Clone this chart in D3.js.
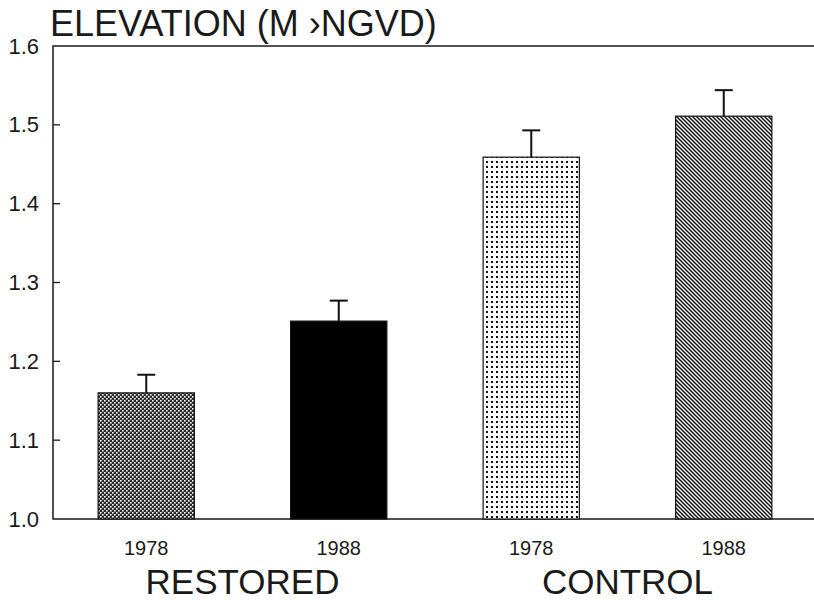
<!DOCTYPE html>
<html><head><meta charset="utf-8">
<script src="https://cdn.jsdelivr.net/npm/d3@7"></script>
<style>
html,body{margin:0;padding:0;background:#fff;}
svg{display:block;}
text{font-family:"Liberation Sans",Arial,sans-serif;}
</style></head>
<body>
<svg id="chart" width="814" height="600"></svg>
<script>
const years = ["1978", "1988", "1978", "1988"];
const groupOf = ["RESTORED", "RESTORED", "CONTROL", "CONTROL"];
const groups = ["RESTORED", "CONTROL"];
const values = [1.160, 1.251, 1.459, 1.511];
const errors = [0.023, 0.026, 0.034, 0.033];
const fills = ["check", "solid", "dots", "diag"];
const yTicks = [1.0, 1.1, 1.2, 1.3, 1.4, 1.5, 1.6];
const titleText = "ELEVATION (M \u203ANGVD)";

(function(){
const svg = d3.select("#chart");
const ink = "#1a1a1a";

const defs = svg.append("defs");
const pCheck = defs.append("pattern").attr("id","check").attr("patternUnits","userSpaceOnUse").attr("width",4).attr("height",4);
pCheck.append("rect").attr("width",4).attr("height",4).attr("fill","#2a2a2a");
pCheck.append("rect").attr("x",0).attr("y",0).attr("width",1.6).attr("height",1.6).attr("fill","#fff");
pCheck.append("rect").attr("x",2).attr("y",2).attr("width",1.6).attr("height",1.6).attr("fill","#fff");

const pDots = defs.append("pattern").attr("id","dots").attr("patternUnits","userSpaceOnUse").attr("width",5).attr("height",5);
pDots.append("rect").attr("width",5).attr("height",5).attr("fill","#fff");
pDots.append("rect").attr("x",1).attr("y",1).attr("width",2).attr("height",2).attr("fill","#111");

const pDiag = defs.append("pattern").attr("id","diag").attr("patternUnits","userSpaceOnUse").attr("width",4).attr("height",4);
pDiag.append("rect").attr("width",4).attr("height",4).attr("fill","#fff");
pDiag.append("path").attr("d","M-1,-1 L5,5 M-1,3 L1,5 M3,-1 L5,1").attr("stroke","#111").attr("stroke-width",1.5);

const mLeft = 53, mRight = 814, mTop = 46, mBottom = 519;

const x = d3.scaleBand().domain(d3.range(years.length)).range([50, 820]).paddingInner(0.5).paddingOuter(0.25);
const y = d3.scaleLinear().domain([1.0, 1.6]).range([mBottom, mTop]);

const yAxis = d3.axisLeft(y).tickValues(yTicks).tickFormat(d3.format(".1f")).tickSize(0).tickPadding(14);
const gy = svg.append("g").attr("transform",`translate(${mLeft},0)`).call(yAxis);
gy.select(".domain").remove();
gy.selectAll("text").attr("font-family","Liberation Sans, Arial, sans-serif").attr("font-size",22).attr("fill",ink);

svg.append("g").selectAll("line").data(yTicks.slice(1,-1)).join("line")
  .attr("x1",mLeft).attr("x2",mLeft+7).attr("y1",d=>y(d)).attr("y2",d=>y(d))
  .attr("stroke",ink).attr("stroke-width",1.3);

svg.append("path").attr("d",`M${mRight},${mTop} H${mLeft} V${mBottom} H${mRight}`)
  .attr("fill","none").attr("stroke",ink).attr("stroke-width",1.5);

svg.append("g").selectAll("rect").data(values).join("rect")
  .attr("x",(d,i)=>x(i)).attr("width",x.bandwidth())
  .attr("y",d=>y(d)).attr("height",d=>y(1.0)-y(d))
  .attr("fill",(d,i)=>fills[i]==="solid" ? "#000" : `url(#${fills[i]})`)
  .attr("stroke","#111").attr("stroke-width",1.2);

const eg = svg.append("g").attr("stroke","#111").attr("stroke-width",2);
values.forEach((v,i)=>{
  const cx = x(i)+x.bandwidth()/2;
  eg.append("line").attr("x1",cx).attr("x2",cx).attr("y1",y(v)).attr("y2",y(v+errors[i]));
  eg.append("line").attr("x1",cx-9).attr("x2",cx+9).attr("y1",y(v+errors[i])).attr("y2",y(v+errors[i]));
});

svg.append("g").selectAll("text").data(years).join("text")
  .attr("x",(d,i)=>x(i)+x.bandwidth()/2).attr("y",555)
  .attr("text-anchor","middle").attr("font-size",20).attr("fill",ink)
  .text(d=>d);

svg.append("g").selectAll("text").data(groups).join("text")
  .attr("x",g=>{
    const idx = d3.range(years.length).filter(i=>groupOf[i]===g);
    return d3.mean(idx, i=>x(i)+x.bandwidth()/2);
  })
  .attr("y",594).attr("text-anchor","middle").attr("font-size",35).attr("fill",ink)
  .text(d=>d);

svg.append("text").attr("x",50).attr("y",36)
  .attr("font-size",36).attr("fill",ink)
  .text(titleText);
})();
</script>
</body></html>
